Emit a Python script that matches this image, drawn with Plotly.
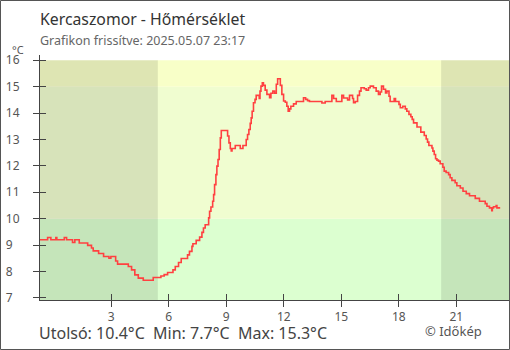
import plotly.graph_objects as go

# Hourly position (hours since midnight; negative = previous evening) and temperature readings
hours = [
    -0.72, -0.32, -0.15, 0.11, 0.16, 0.55, 0.67, 0.98, 1.10, 1.33, 1.77, 1.97, 2.06, 2.34,
    2.60, 2.88, 2.98, 3.23, 3.33, 3.89, 4.06, 4.23, 4.41, 4.67, 5.19, 5.59, 5.76, 5.94,
    6.22, 6.34, 6.51, 6.65, 6.98, 7.08, 7.21, 7.26, 7.43, 7.61, 7.73, 7.81, 7.90, 8.08,
    8.13, 8.20, 8.29, 8.34, 8.39, 8.46, 8.51, 8.57, 8.63, 8.69, 8.74, 9.07, 9.14, 9.21,
    9.26, 9.30, 9.47, 9.73, 9.87, 10.04, 10.11, 10.18, 10.25, 10.30, 10.35, 10.42, 10.50,
    10.56, 10.72, 10.76, 10.81, 10.88, 10.94, 11.03, 11.12, 11.26, 11.33, 11.43, 11.52,
    11.61, 11.68, 11.82, 11.90, 11.99, 12.08, 12.16, 12.23, 12.30, 12.37, 12.51, 12.65,
    13.03, 13.14, 13.24, 13.34, 13.99, 14.16, 14.51, 14.60, 14.74, 15.03, 15.12, 15.33,
    15.43, 15.59, 15.64, 15.73, 15.85, 15.95, 16.03, 16.20, 16.30, 16.42, 16.51, 16.68,
    16.82, 16.94, 17.03, 17.10, 17.20, 17.31, 17.38, 17.49, 17.55, 17.76, 17.83, 18.01,
    18.08, 18.21, 18.34, 18.42, 18.53, 18.63, 18.70, 18.77, 18.95, 19.15, 19.33, 19.43,
    19.50, 19.57, 19.73, 19.78, 19.85, 19.92, 19.99, 20.07, 20.16, 20.30, 20.37, 20.47,
    20.60, 20.68, 20.77, 20.94, 21.03, 21.21, 21.35, 21.52, 21.69, 21.99, 22.21, 22.51,
    22.60, 22.73, 22.85, 22.88, 22.94, 23.08, 23.12, 23.29,
]
temps = [
    9.20, 9.29, 9.20, 9.29, 9.20, 9.29, 9.20, 9.10, 9.20, 9.08, 8.99, 8.89, 8.78, 8.68,
    8.57, 8.50, 8.57, 8.40, 8.28, 8.19, 8.06, 7.87, 7.75, 7.67, 7.77, 7.83, 7.88, 7.96,
    8.06, 8.19, 8.34, 8.49, 8.63, 8.76, 8.95, 9.05, 9.18, 9.30, 9.48, 9.65, 9.77, 10.03,
    10.28, 10.44, 10.66, 10.91, 11.29, 11.67, 11.99, 12.24, 12.62, 13.06, 13.34, 13.13,
    12.87, 12.66, 12.57, 12.66, 12.77, 12.66, 12.77, 13.00, 13.19, 13.38, 13.61, 13.82,
    14.07, 14.39, 14.52, 14.67, 14.55, 14.83, 15.02, 15.15, 15.05, 14.87, 14.71, 14.58,
    14.75, 14.83, 14.75, 15.09, 15.30, 15.05, 14.71, 14.46, 14.41, 14.26, 14.07, 14.16,
    14.26, 14.35, 14.44, 14.58, 14.52, 14.47, 14.44, 14.38, 14.44, 14.67, 14.55, 14.44,
    14.67, 14.57, 14.50, 14.67, 14.55, 14.39, 14.44, 14.67, 14.83, 14.96, 14.92, 14.87,
    14.96, 15.02, 14.96, 14.83, 14.71, 14.80, 15.02, 14.90, 14.76, 14.83, 14.64, 14.44,
    14.55, 14.44, 14.33, 14.20, 14.26, 14.16, 14.07, 13.95, 13.86, 13.76, 13.63, 13.47,
    13.28, 13.15, 13.02, 12.90, 12.77, 12.68, 12.56, 12.43, 12.27, 12.22, 12.18, 12.08,
    11.95, 11.80, 11.75, 11.67, 11.55, 11.45, 11.36, 11.25, 11.16, 11.04, 10.95, 10.87,
    10.77, 10.66, 10.57, 10.47, 10.41, 10.30, 10.41, 10.45, 10.50, 10.41, 10.41,
]

hour_ticks = [3, 6, 9, 12, 15, 18, 21]
temp_ticks = [7, 8, 9, 10, 11, 12, 13, 14, 15, 16]

station = "Kercaszomor"
updated = "2025.05.07 23:17"

# Axis windows and background zones
x_range = [-0.717, 23.75]
y_range = [6.92, 16.2]
zone_top = 16
zone_limits = [10, 15]
zone_colors = ["#dcffd0", "#f0fdd0", "#f8ffc8"]
sunrise, sunset = 5.43, 20.21

AXIS = "#444444"
FONT = "Noto Sans"

fig = go.Figure()

fig.add_trace(go.Scatter(
    x=hours, y=temps, mode="lines", line=dict(color="#ff4040", width=1.6, shape="hv"),
    hoverinfo="skip", showlegend=False,
))
# empty trace so the overlay axes (inner tick marks) are drawn
fig.add_trace(go.Scatter(x=[], y=[], xaxis="x2", yaxis="y2", showlegend=False, hoverinfo="skip"))

# temperature zones
bounds = [y_range[0]] + zone_limits + [zone_top]
shapes = []
for lo, hi, col in zip(bounds[:-1], bounds[1:], zone_colors):
    shapes.append(dict(type="rect", xref="x", yref="y", x0=x_range[0], x1=x_range[1],
                       y0=lo, y1=hi, fillcolor=col, line_width=0, layer="below"))
# night shading
for a, b in [(x_range[0], sunrise), (sunset, x_range[1])]:
    shapes.append(dict(type="rect", xref="x", yref="y", x0=a, x1=b,
                       y0=y_range[0], y1=zone_top, fillcolor="rgba(0,0,0,0.1)",
                       line_width=0, layer="below"))

L, R, T, B, W, H = 40, 1, 55, 50, 510, 350
pw, ph = W - L - R, H - T - B
# outer frame around the whole figure
shapes.append(dict(type="rect", xref="paper", yref="paper",
                   x0=(0.5 - L) / pw, x1=(W - 0.5 - L) / pw,
                   y0=-(B - 0.5) / ph, y1=1 + (T - 0.5) / ph,
                   line=dict(color="#555555", width=1), fillcolor="rgba(0,0,0,0)"))


def px(x):
    return (x - L) / pw


def py(y):
    return (H - B - y) / ph


last, tmin, tmax = temps[-1], min(temps), max(temps)
annotations = [
    dict(text=f"{station} - Hőmérséklet", x=px(38), y=py(19), xanchor="left", yanchor="middle",
         font=dict(size=15.8, color="#333333")),
    dict(text=f"Grafikon frissítve: {updated}", x=px(38), y=py(41), xanchor="left",
         yanchor="middle", font=dict(size=12.5, color="#666666")),
    dict(text="°C", x=px(18), y=py(50), xanchor="center", yanchor="middle",
         font=dict(size=11, color="#555555")),
    dict(text=f"Utolsó: {last:.1f}°C  Min: {tmin:.1f}°C  Max: {tmax:.1f}°C", x=px(37),
         y=py(333), xanchor="left", yanchor="middle", font=dict(size=16, color="#444444")),
    dict(text="© Időkép", x=px(453), y=py(331), xanchor="center", yanchor="middle",
         font=dict(size=13, color="#555555")),
]
for a in annotations:
    a.update(xref="paper", yref="paper", showarrow=False)

ytext = [f"{v}\u2007" if v < 10 else str(v) for v in temp_ticks]

common_x = dict(range=x_range, tickvals=hour_ticks, showgrid=False, zeroline=False,
                ticklen=6, tickcolor=AXIS, tickwidth=1)
common_y = dict(range=y_range, tickvals=temp_ticks, showgrid=False, zeroline=False,
                ticklen=6, tickcolor=AXIS, tickwidth=1)

fig.update_layout(
    width=W, height=H, margin=dict(l=L, r=R, t=T, b=B),
    paper_bgcolor="white", plot_bgcolor="white",
    font=dict(family=FONT, color="#555555"),
    shapes=shapes, annotations=annotations, showlegend=False,
    xaxis=dict(**common_x, ticks="outside", showline=True, linecolor=AXIS, linewidth=1,
               ticktext=[str(v) for v in hour_ticks], tickfont=dict(size=12, color="#555555")),
    yaxis=dict(**common_y, ticks="outside", showline=True, linecolor=AXIS, linewidth=1,
               ticktext=ytext, tickfont=dict(size=12, color="#555555"), ticklabelstandoff=11),
    xaxis2=dict(**common_x, ticks="inside", overlaying="x", anchor="y2", showticklabels=False),
    yaxis2=dict(**common_y, ticks="inside", overlaying="y", anchor="x2", showticklabels=False),
)

fig.write_html("out.html")
